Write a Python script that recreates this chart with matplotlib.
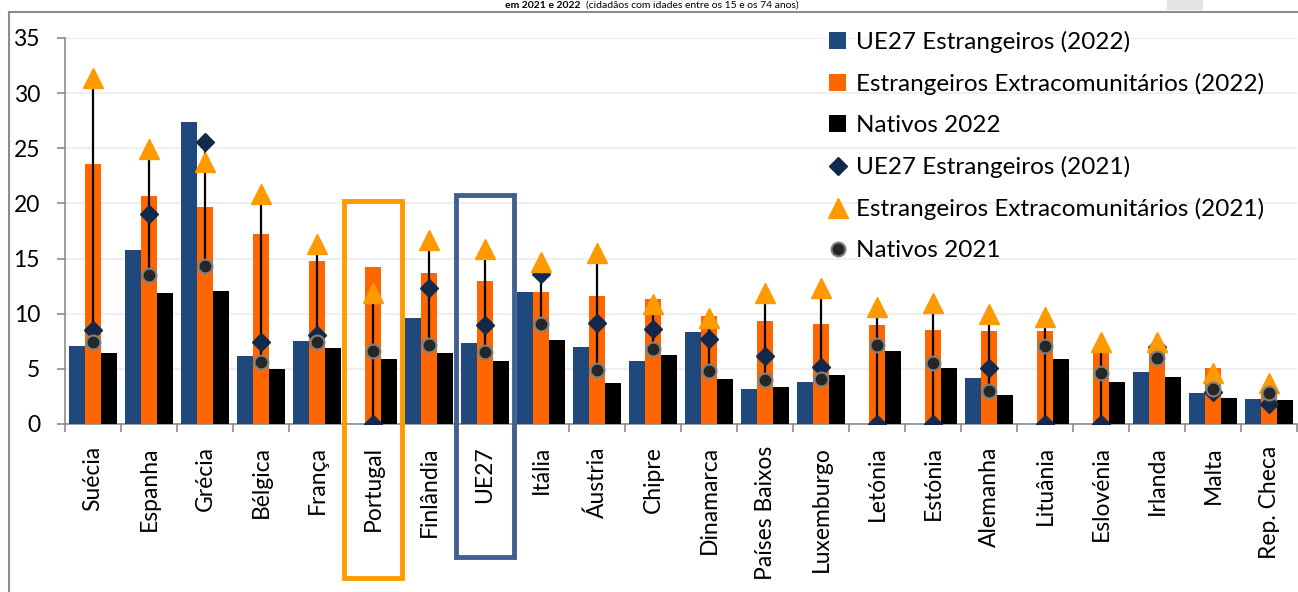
import numpy as np
import matplotlib
matplotlib.use("Agg")
import matplotlib.pyplot as plt
from matplotlib.patches import Rectangle
from matplotlib.lines import Line2D

plt.rcParams['font.family'] = ['Lato', 'DejaVu Sans']

paises = ["Suécia", "Espanha", "Grécia", "Bélgica", "França", "Portugal",
          "Finlândia", "UE27", "Itália", "Áustria", "Chipre", "Dinamarca",
          "Países Baixos", "Luxemburgo", "Letónia", "Estónia", "Alemanha",
          "Lituânia", "Eslovénia", "Irlanda", "Malta", "Rep. Checa"]

# 2022 (barras)
ue_2022 = [7.1, 15.8, 27.4, 6.2, 7.5, 0.0, 9.6, 7.3, 12.0, 7.0, 5.7, 8.3,
           3.2, 3.8, 0.0, 0.0, 4.2, 0.0, 0.0, 4.7, 2.8, 2.3]
extra_2022 = [23.6, 20.7, 19.7, 17.2, 14.8, 14.2, 13.7, 13.0, 12.0, 11.6, 11.3, 9.8,
              9.3, 9.1, 9.0, 8.5, 8.4, 8.4, 6.7, 6.8, 5.1, 3.0]
nativos_2022 = [6.4, 11.9, 12.1, 5.0, 6.9, 5.9, 6.4, 5.7, 7.6, 3.7, 6.3, 4.1,
                3.4, 4.4, 6.6, 5.1, 2.6, 5.9, 3.8, 4.3, 2.4, 2.2]

# 2021 (marcadores)
ue_2021 = [8.5, 19.0, 25.6, 7.4, 8.1, 0.0, 12.3, 9.0, 13.6, 9.2, 8.6, 7.7,
           6.2, 5.2, 0.0, 0.0, 5.1, 0.0, 0.0, 7.0, 2.9, 1.8]
extra_2021 = [31.4, 24.9, 23.8, 20.9, 16.3, 11.9, 16.7, 15.9, 14.7, 15.5, 10.9, 9.6,
              11.9, 12.3, 10.6, 11.0, 10.0, 9.7, 7.4, 7.4, 4.6, 3.7]
nativos_2021 = [7.4, 13.5, 14.3, 5.6, 7.4, 6.6, 7.2, 6.5, 9.1, 4.9, 6.8, 4.8,
                4.0, 4.1, 7.2, 5.5, 3.0, 7.1, 4.6, 6.0, 3.2, 2.8]

W, H = 1298, 592
fig = plt.figure(figsize=(W / 100, H / 100), dpi=100)
ax = fig.add_axes([65 / W, 1 - 424 / H, 1232 / W, 386 / H])

x = np.arange(len(paises))
bw = 0.2857
b1 = ax.bar(x - bw, ue_2022, bw, color='#1F497D', label='UE27 Estrangeiros (2022)', zorder=2)
b2 = ax.bar(x, extra_2022, bw, color='#FF6600', label='Estrangeiros Extracomunitários (2022)', zorder=2)
b3 = ax.bar(x + bw, nativos_2022, bw, color='#000000', label='Nativos 2022', zorder=2)

# linhas máximo-mínimo entre as séries de 2021
s21 = np.array([ue_2021, extra_2021, nativos_2021])
ax.vlines(x, s21.min(axis=0), s21.max(axis=0), color='black', lw=1.6, zorder=3)

m1, = ax.plot(x, ue_2021, ls='none', marker='D', ms=9, color='#13294B',
              label='UE27 Estrangeiros (2021)', zorder=4)
m2, = ax.plot(x, extra_2021, ls='none', marker='^', ms=15, color='#FF9900',
              label='Estrangeiros Extracomunitários (2021)', zorder=5)
m3, = ax.plot(x, nativos_2021, ls='none', marker='o', ms=10, color='#262626',
              mec='#808080', mew=1.5, label='Nativos 2021', zorder=6)

ax.set_xlim(-0.5, len(paises) - 0.5)
ax.set_ylim(0, 35)
ax.set_yticks(np.arange(0, 36, 5))
ax.yaxis.grid(True, color='#efefef', lw=1.5, zorder=0)
ax.set_axisbelow(True)

ax.set_xticks(x)
ax.set_xticklabels(paises, rotation=90, fontsize=16.5, va='top')
ax.set_xticks(np.arange(-0.5, len(paises), 1.0), minor=True)
ax.tick_params(axis='x', which='major', length=0, pad=16)
ax.tick_params(axis='x', which='minor', length=6, color='#8c8c8c', width=1.2)
ax.tick_params(axis='y', length=6, color='#8c8c8c', width=1.2, labelsize=16.5, pad=12)

for s in ['top', 'right']:
    ax.spines[s].set_visible(False)
for s in ['left', 'bottom']:
    ax.spines[s].set_color('#8c8c8c')
    ax.spines[s].set_linewidth(1.2)
ax.spines['bottom'].set_zorder(1)

ax.legend(handles=[b1, b2, b3, m1, m2, m3],
          loc='upper left', bbox_to_anchor=(829 / W, 1 - 31 / H),
          bbox_transform=fig.transFigure, frameon=False, fontsize=17.5,
          numpoints=1, handlelength=0.7, handleheight=0.7, handletextpad=0.4,
          labelspacing=0.82, borderpad=0, borderaxespad=0)

# destaque de Portugal e da UE27
ax.add_patch(Rectangle((5 - 0.525, -13.95), 1.05, 34.15, fill=False,
                       ec='#FF9900', lw=3.5, clip_on=False, zorder=7))
ax.add_patch(Rectangle((7 - 0.525, -12.1), 1.05, 32.9, fill=False,
                       ec='#41608F', lw=3.5, clip_on=False, zorder=7))

# moldura e título
fig.add_artist(Line2D([9 / W, 1], [1 - 11.5 / H] * 2, color='#8c8c8c', lw=1.5))
fig.add_artist(Line2D([9 / W] * 2, [0, 1 - 11.5 / H], color='#8c8c8c', lw=1.5))
fig.add_artist(Rectangle((1167 / W, 1 - 10 / H), 36 / W, 10 / H,
                         transform=fig.transFigure, color='#e3e3e3', lw=0))

t1 = fig.text(0, 1 - 8 / H, "em 2021 e 2022", fontsize=7.5, fontweight='bold',
              va='baseline', ha='left')
t2 = fig.text(0, 1 - 8 / H, "(cidadãos com idades entre os 15 e os 74 anos)",
              fontsize=7.5, va='baseline', ha='left')
r = fig.canvas.get_renderer()
w1 = t1.get_window_extent(r).width
w2 = t2.get_window_extent(r).width
gap = 5
x0 = 652 - (w1 + gap + w2) / 2
t1.set_x(x0 / W)
t2.set_x((x0 + w1 + gap) / W)

fig.savefig("out.png", dpi=100)
